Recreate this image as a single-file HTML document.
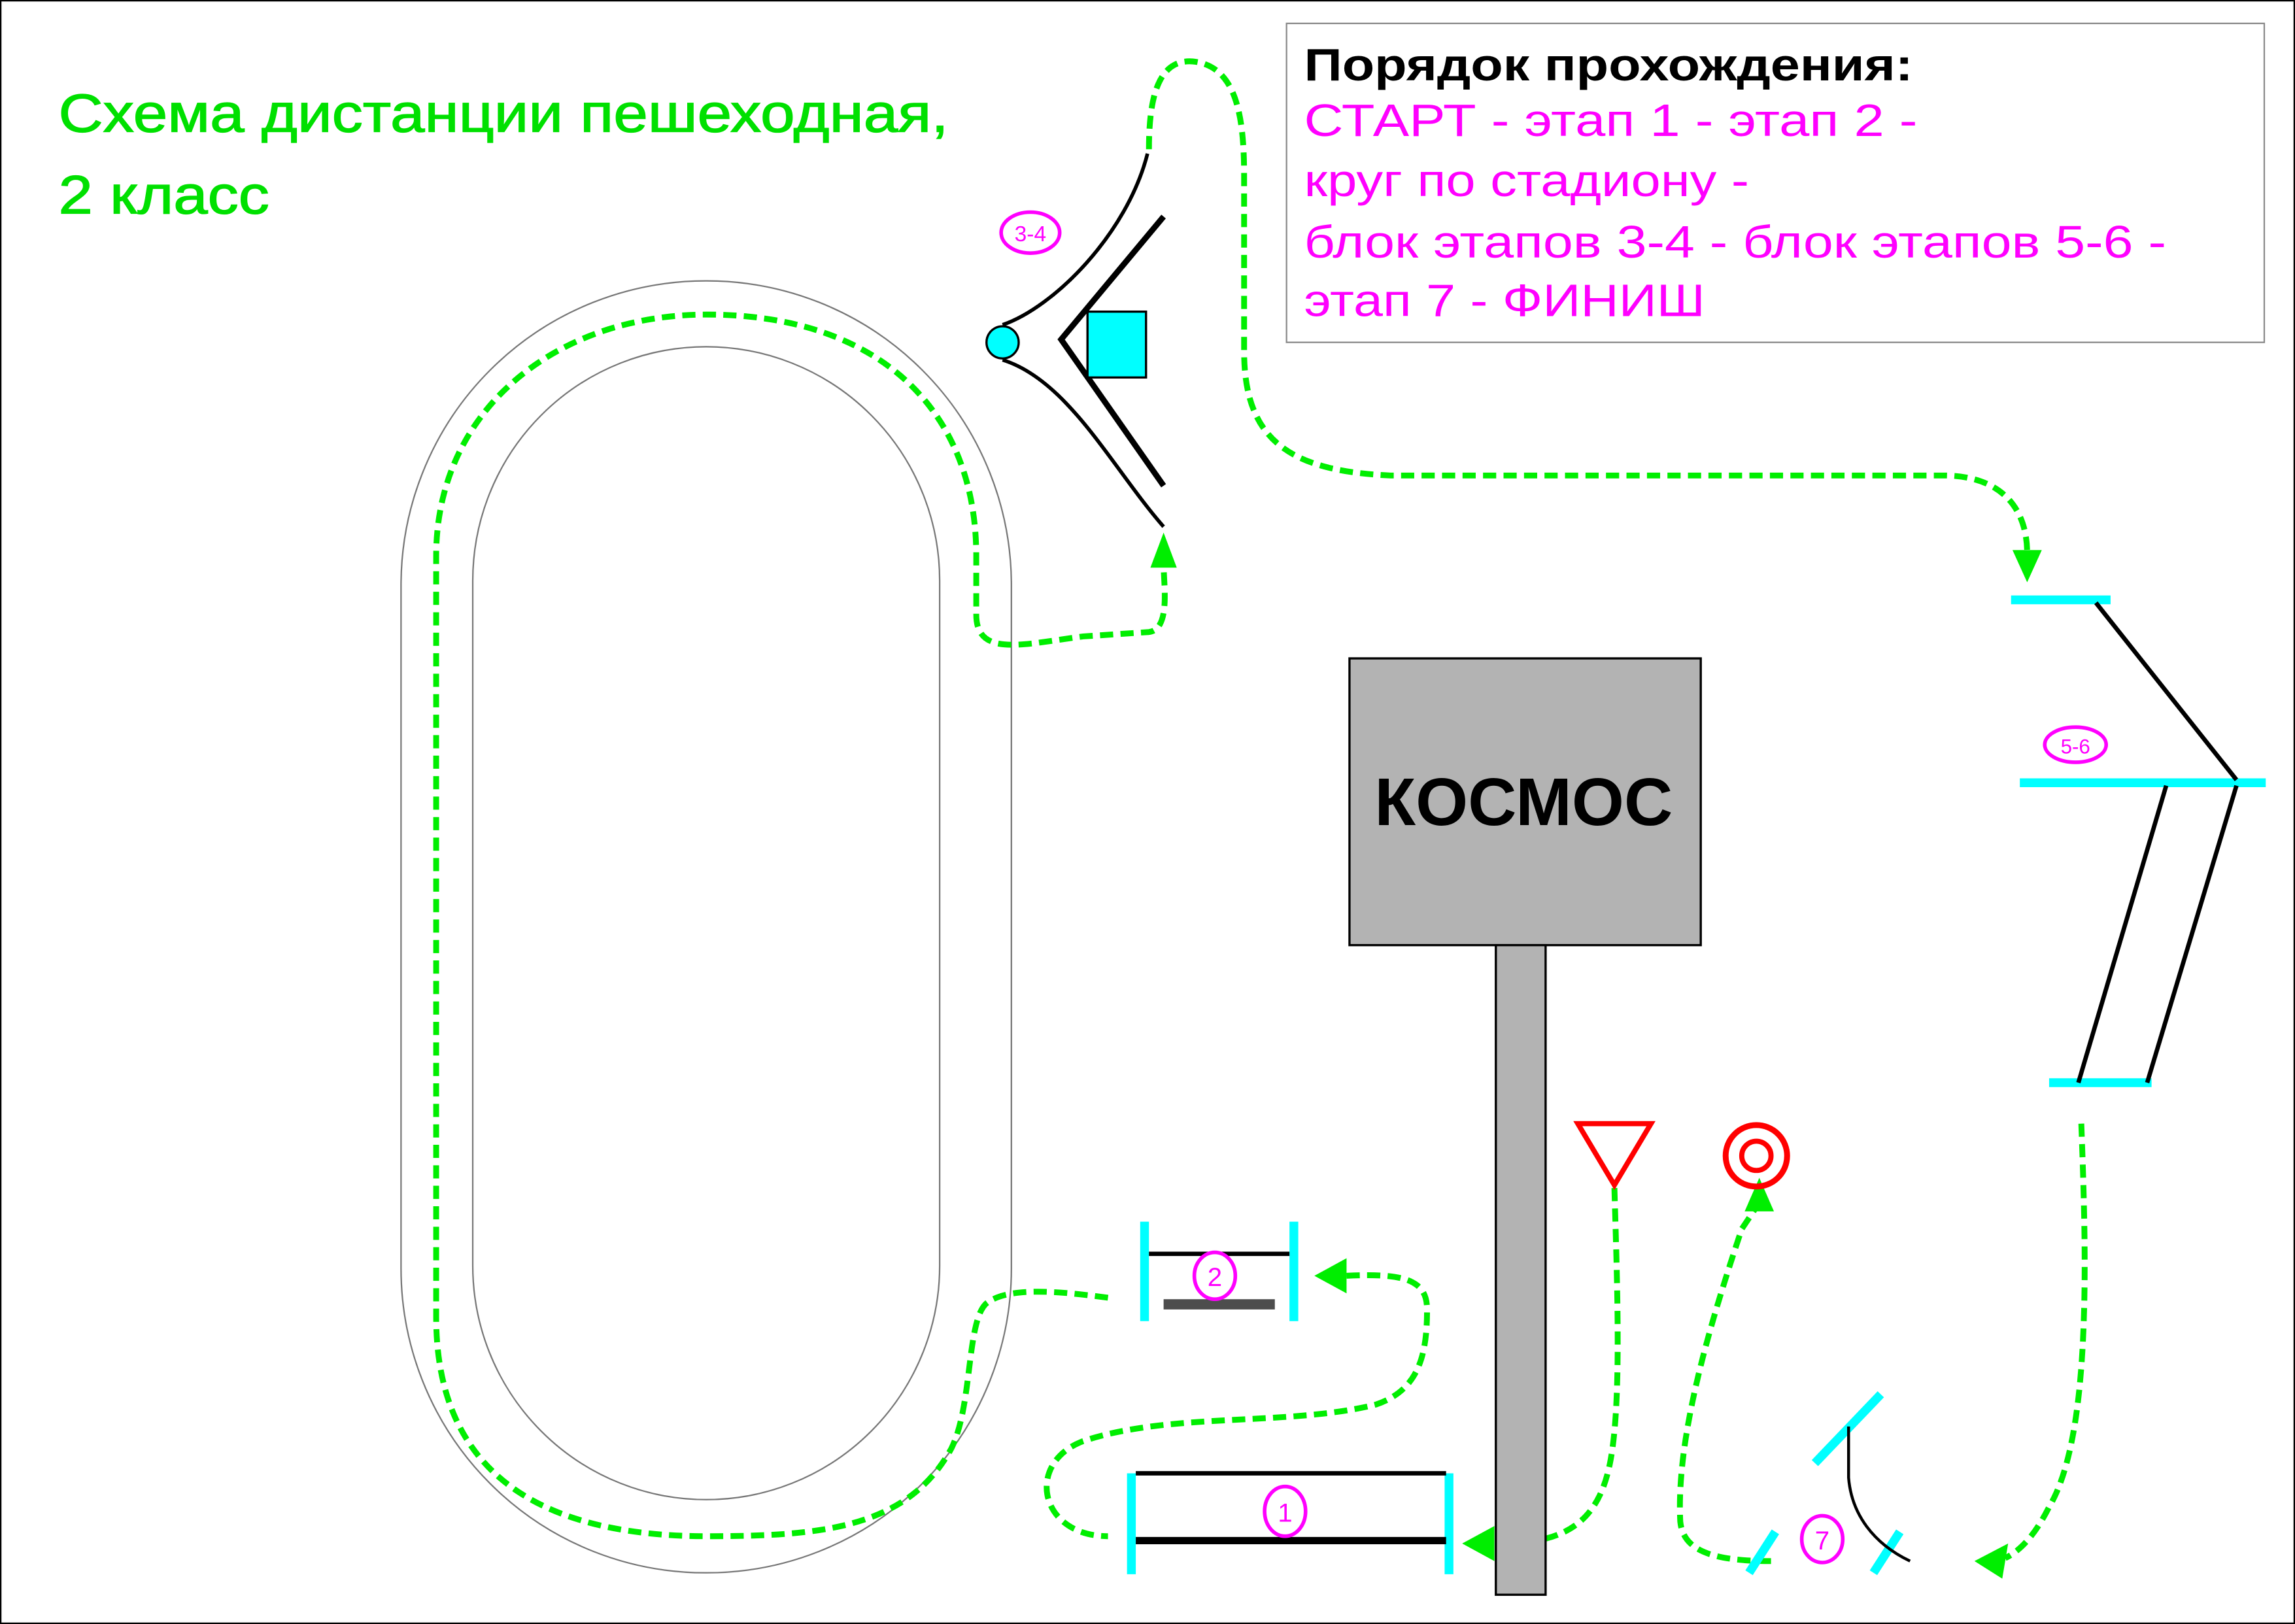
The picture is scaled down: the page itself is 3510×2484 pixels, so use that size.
<!DOCTYPE html>
<html><head><meta charset="utf-8"><style>html,body{margin:0;padding:0;background:#fff}svg{display:block}</style></head>
<body>
<svg width="3510" height="2484" viewBox="0 0 1568 1110" preserveAspectRatio="none" xmlns="http://www.w3.org/2000/svg" font-family="Liberation Sans, DejaVu Sans, sans-serif">
<rect x="0.5" y="0.5" width="1567" height="1109" fill="#fff" stroke="#000" stroke-width="1"/>
<text x="40" y="90" font-size="37" fill="#00e000" stroke="#00e000" stroke-width="0.6" textLength="608" lengthAdjust="spacingAndGlyphs">Схема дистанции пешеходная,</text>
<text x="40" y="146" font-size="37" fill="#00e000" stroke="#00e000" stroke-width="0.6" textLength="144" lengthAdjust="spacingAndGlyphs">2 класс</text>
<rect x="879" y="16" width="668" height="218" fill="#fff" stroke="#888" stroke-width="1"/>
<text x="891" y="55" font-size="31" font-weight="bold" fill="#000" textLength="416" lengthAdjust="spacingAndGlyphs">Порядок прохождения:</text>
<g font-size="31" fill="#ff00ff">
<text x="891" y="93" textLength="419" lengthAdjust="spacingAndGlyphs">СТАРТ  - этап 1 - этап 2 -</text>
<text x="891" y="134" textLength="304" lengthAdjust="spacingAndGlyphs">круг по стадиону -</text>
<text x="891" y="176" textLength="589" lengthAdjust="spacingAndGlyphs">блок этапов  3-4 - блок этапов 5-6 -</text>
<text x="891" y="216" textLength="274" lengthAdjust="spacingAndGlyphs">этап 7 - ФИНИШ</text>
</g>
<rect x="274" y="192" width="417" height="883" rx="208" fill="none" stroke="#777" stroke-width="1"/>
<rect x="323" y="237" width="319" height="788" rx="160" fill="none" stroke="#777" stroke-width="1"/>
<g fill="none" stroke="#00ee00" stroke-width="4" stroke-dasharray="9,5">
<path d="M757,887 C720,882 690,880 675,890 C660,900 665,960 650,990 C620,1045 560,1050 483,1050 C360,1050 298,1000 298,900 L298,380 C298,280 380,215 483,215 C600,215 667,280 667,380 L667,420 C667,450 700,440 740,435 L785,432 C800,430 795,400 795,385"/>
<path d="M785,102 C785,70 790,40 815,42 C845,45 850,80 850,120 L850,240 C850,300 880,322 950,325 L1330,325 C1370,326 1385,350 1385,378"/>
<path d="M1422,768 C1425,850 1430,980 1400,1030 C1390,1050 1380,1060 1370,1065"/>
<path d="M1103,812 C1105,880 1108,960 1100,1000 C1092,1040 1070,1055 1025,1055"/>
<path d="M1210,1067 C1170,1067 1150,1060 1148,1040 C1145,980 1170,900 1190,840 L1200,825"/>
<path d="M920,872 C960,870 975,875 975,895 C975,925 970,950 940,960 C880,975 800,965 740,985 C700,1000 710,1050 757,1050"/>
</g>
<g fill="#00ee00">
<polygon points="786,388 804,388 795,364"/>
<polygon points="1375,376 1395,376 1385,398"/>
<polygon points="1349,1067 1372,1055 1368,1079"/>
<polygon points="999,1055 1021,1043 1021,1067"/>
<polygon points="1202,805 1192,828 1212,828"/>
<polygon points="898,872 920,860 920,884"/>
</g>
<rect x="922" y="450" width="240" height="196" fill="#b3b3b3" stroke="#000" stroke-width="1.5"/>
<text x="1041" y="564" font-size="46" font-weight="bold" text-anchor="middle" fill="#000">КОСМОС</text>
<rect x="1022" y="646" width="34" height="444" fill="#b3b3b3" stroke="#000" stroke-width="1.5"/>
<g stroke="#00ffff" stroke-width="6">
<line x1="773" y1="1007" x2="773" y2="1076"/><line x1="990" y1="1007" x2="990" y2="1076"/>
<line x1="782" y1="835" x2="782" y2="903"/><line x1="884" y1="835" x2="884" y2="903"/>
<line x1="1374" y1="410" x2="1442" y2="410"/>
<line x1="1380" y1="535" x2="1548" y2="535"/>
<line x1="1400" y1="740" x2="1470" y2="740"/>
<line x1="1240" y1="1000" x2="1285" y2="953"/>
<line x1="1195" y1="1075" x2="1213" y2="1047"/>
<line x1="1280" y1="1075" x2="1298" y2="1047"/>
</g>
<g stroke="#000" fill="none">
<line x1="776" y1="1007" x2="988" y2="1007" stroke-width="3"/>
<line x1="776" y1="1053" x2="988" y2="1053" stroke-width="5"/>
<line x1="785" y1="857" x2="881" y2="857" stroke-width="3"/>
<line x1="1432" y1="412" x2="1528" y2="533" stroke-width="3"/>
<line x1="1480" y1="537" x2="1420" y2="740" stroke-width="3"/>
<line x1="1528" y1="537" x2="1467" y2="740" stroke-width="3"/>
<path d="M1263,975 L1263,1010 C1265,1035 1280,1055 1305,1067" stroke-width="2"/>
<path d="M784,105 C770,160 720,210 685,222" stroke-width="2.5"/>
<path d="M685,246 C730,260 760,320 795,360" stroke-width="2.5"/>
<polyline points="795,148 725,232 795,332" stroke-width="4"/>
</g>
<rect x="795" y="888" width="76" height="7" fill="#4d4d4d"/>
<circle cx="685" cy="234" r="11" fill="#00ffff" stroke="#000" stroke-width="1.5"/>
<rect x="743" y="213" width="40" height="45" fill="#00ffff" stroke="#000" stroke-width="1.5"/>
<polygon points="1078,768 1128,768 1103,810" fill="none" stroke="#ff0000" stroke-width="3.5"/>
<circle cx="1200" cy="790" r="21" fill="none" stroke="#ff0000" stroke-width="4"/>
<circle cx="1200" cy="790" r="10" fill="none" stroke="#ff0000" stroke-width="3.5"/>
<g fill="#fff" stroke="#ff00ff" stroke-width="2.5">
<ellipse cx="878" cy="1033" rx="14" ry="17"/>
<ellipse cx="830" cy="872" rx="14" ry="16"/>
<ellipse cx="1245" cy="1052" rx="14" ry="16"/>
<ellipse cx="704" cy="159" rx="20" ry="14"/>
<ellipse cx="1418" cy="509" rx="21" ry="12"/>
</g>
<g fill="#ff00ff" font-size="18" text-anchor="middle">
<text x="878" y="1040">1</text>
<text x="830" y="879">2</text>
<text x="1245" y="1059">7</text>
<text x="704" y="165" font-size="15">3-4</text>
<text x="1418" y="515" font-size="14">5-6</text>
</g>
</svg>
</body></html>
